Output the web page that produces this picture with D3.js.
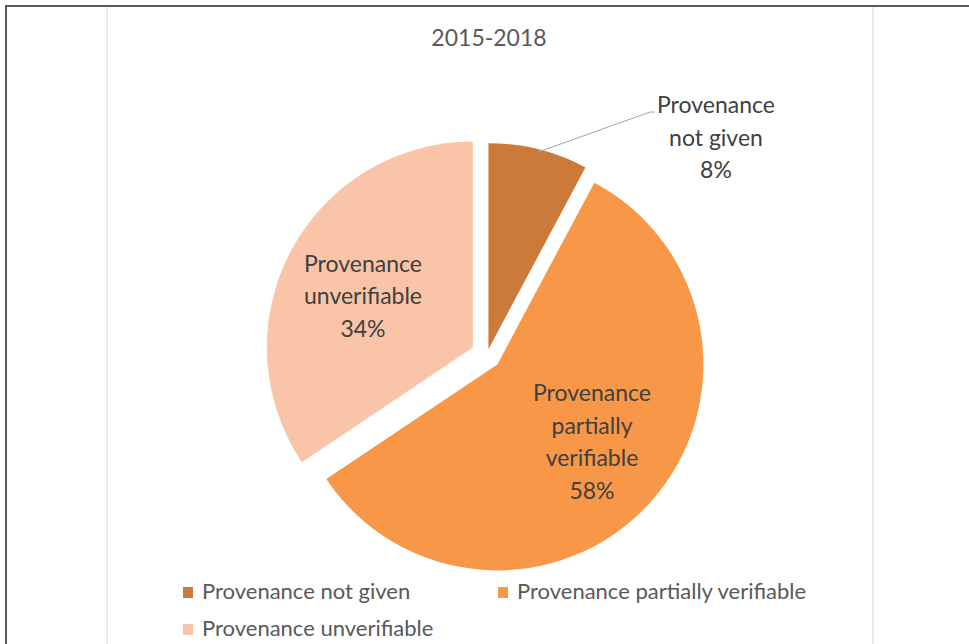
<!DOCTYPE html>
<html>
<head>
<meta charset="utf-8">
<script src="https://cdn.jsdelivr.net/npm/d3@7/dist/d3.min.js"></script>
<style>
  html, body { margin: 0; padding: 0; background: #fff; }
  svg { display: block; }
  text { font-family: Lato, "Open Sans", sans-serif; }
</style>
</head>
<body>
<svg id="chart" width="969" height="644"></svg>
<script>
// ---- data ----
const title = "2015-2018";
const categories = ["Provenance not given", "Provenance partially verifiable", "Provenance unverifiable"];
const values = [7.8, 57.8, 34.4];
const labelLines = [
  ["Provenance", "not given"],
  ["Provenance", "partially", "verifiable"],
  ["Provenance", "unverifiable"]
];
const colors = ["#CC7A39", "#F79747", "#F9C4A7"];

// ---- layout ----
const W = 969, H = 644;
const cx = 487, cy = 355, R = 206;
const explode = [6, 14, 16];
const labelCenters = [[716, 137.5], [592, 442], [363, 296]];
const lineH = 32.5;

const svg = d3.select("#chart");

// frame
svg.append("line").attr("x1", 5).attr("x2", W).attr("y1", 6).attr("y2", 6)
  .attr("stroke", "#5a5a5a").attr("stroke-width", 2);
svg.append("line").attr("x1", 6).attr("x2", 6).attr("y1", 5).attr("y2", H)
  .attr("stroke", "#5a5a5a").attr("stroke-width", 2);
[107, 873].forEach(x => {
  svg.append("line").attr("x1", x).attr("x2", x).attr("y1", 7).attr("y2", H)
    .attr("stroke", "#ebebeb").attr("stroke-width", 2);
});

// title
svg.append("text").attr("x", 489).attr("y", 46).attr("text-anchor", "middle")
  .attr("font-size", 23).attr("fill", "#595959").text(title);

const pie = d3.pie().sort(null).value(d => d).startAngle(0).endAngle(2 * Math.PI);
const arcs = pie(values);
const arc = d3.arc().innerRadius(0).outerRadius(R);

const g = svg.append("g").attr("transform", `translate(${cx},${cy})`);

function offset(a, i) {
  const m = (a.startAngle + a.endAngle) / 2;
  return [Math.sin(m) * explode[i], -Math.cos(m) * explode[i]];
}

g.selectAll("path.slice").data(arcs).join("path")
  .attr("class", "slice")
  .attr("transform", (a, i) => { const o = offset(a, i); return `translate(${o[0]},${o[1]})`; })
  .attr("d", arc)
  .attr("fill", (a, i) => colors[i]);

// leader line for the outside label of slice 0
{
  const a = arcs[0];
  const o = offset(a, 0);
  const m = (a.startAngle + a.endAngle) / 2;
  const px = cx + o[0] + Math.sin(m) * (R - 3);
  const py = cy + o[1] - Math.cos(m) * (R - 3);
  svg.append("polyline")
    .attr("points", `${px},${py} 650,112 655,112`)
    .attr("fill", "none").attr("stroke", "#a6a6a6").attr("stroke-width", 1);
}

// data labels
arcs.forEach((a, i) => {
  const [lx, ly] = labelCenters[i];
  const lines = labelLines[i].concat([Math.round(values[i]) + "%"]);
  const t = svg.append("text").attr("text-anchor", "middle")
    .attr("font-size", 23).attr("fill", "#404040");
  const y0 = ly - (lines.length - 1) * lineH / 2 + 8;
  lines.forEach((s, k) => {
    t.append("tspan").attr("x", lx).attr("y", y0 + k * lineH).text(s);
  });
});

// legend
const legendPos = [[183, 587], [498, 587], [183, 624]];
categories.forEach((name, i) => {
  const [x, y] = legendPos[i];
  svg.append("rect").attr("x", x).attr("y", y).attr("width", 10).attr("height", 11)
    .attr("fill", colors[i]);
  svg.append("text").attr("x", x + 19).attr("y", y + 12)
    .attr("font-size", 22).attr("fill", "#595959").text(name);
});
</script>
</body>
</html>
